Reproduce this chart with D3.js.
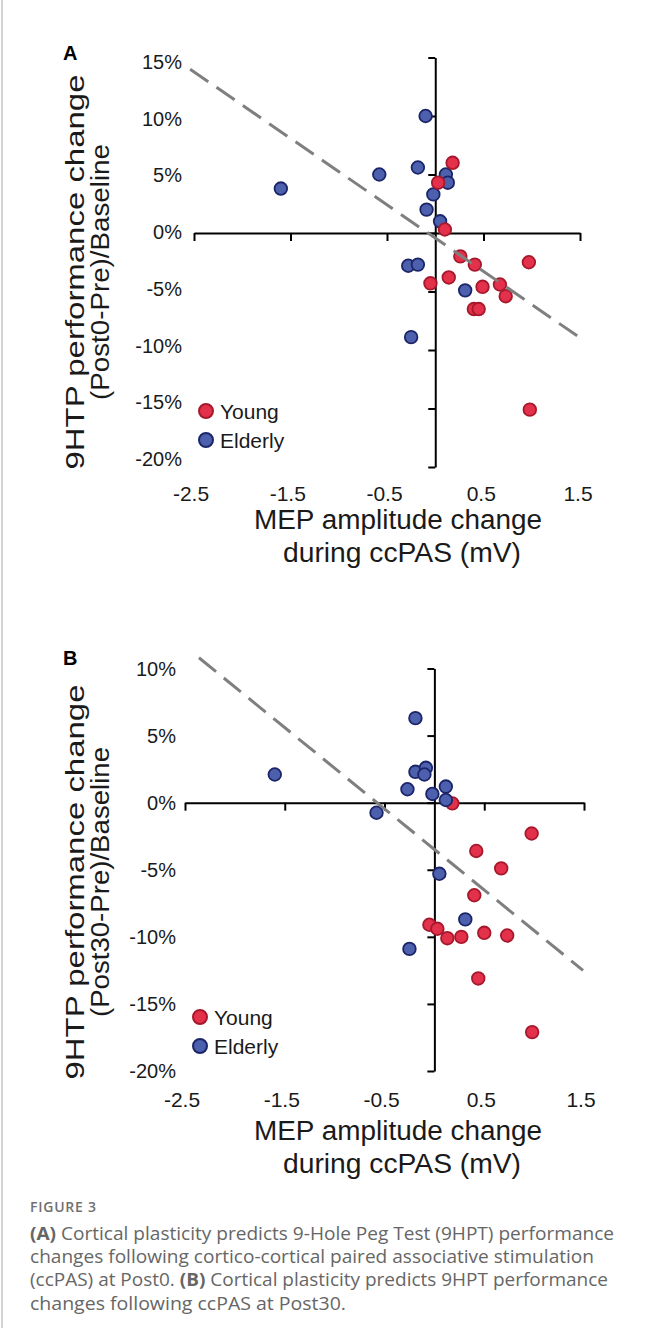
<!DOCTYPE html>
<html><head><meta charset="utf-8">
<script src="https://cdn.jsdelivr.net/npm/d3@7"></script>
<style>body{margin:0;background:#fff}svg{display:block}</style>
</head><body>
<svg id="c" width="662" height="1340"></svg>
<script>
// ---------- data ----------
const xTicks = [-2.5, -1.5, -0.5, 0.5, 1.5];
const yTicksA = [-20, -15, -10, -5, 0, 5, 10, 15];
const yTicksB = [-20, -15, -10, -5, 0, 5, 10];
const seriesNames = ["Young", "Elderly"];

// Panel A: MEP change (mV) vs 9HPT change Post0 (%)
const youngA = [[0.18,6.0],[0.03,4.3],[0.10,0.3],[0.26,-2.0],[0.41,-2.7],[0.97,-2.5],[-0.05,-4.3],
  [0.14,-3.8],[0.49,-4.6],[0.67,-4.4],[0.73,-5.4],[0.40,-6.5],[0.45,-6.5],[0.98,-15.1]];
const elderlyA = [[-1.60,3.8],[-0.58,5.0],[-0.18,5.6],[-0.10,10.0],[0.11,5.0],[0.13,4.3],[-0.02,3.3],
  [-0.09,2.0],[0.05,1.0],[-0.28,-2.8],[-0.18,-2.7],[0.31,-4.9],[-0.25,-8.9]];
const trendA = [[-2.54,14.0],[1.49,-8.9]];

// Panel B: MEP change (mV) vs 9HPT change Post30 (%)
const youngB = [[0.18,-0.05],[0.975,-2.3],[0.42,-3.6],[0.67,-4.9],[0.40,-6.9],[-0.05,-9.1],[0.03,-9.4],
  [0.13,-10.1],[0.27,-10.0],[0.50,-9.7],[0.73,-9.9],[0.44,-13.1],[0.98,-17.1]];
const elderlyB = [[-1.60,2.1],[-0.19,6.3],[-0.58,-0.75],[-0.27,1.0],[-0.19,2.3],[-0.085,2.6],[-0.10,2.1],
  [-0.02,0.65],[0.115,1.2],[0.115,0.2],[0.05,-5.3],[0.31,-8.7],[-0.25,-10.9]];
const trendB = [[-2.36,10.8],[1.49,-12.5]];

// ---------- drawing ----------
const svg = d3.select("#c");
const FONT = "'Liberation Sans', Arial, sans-serif";
const RED = "#e3314b", RED_S = "#a8182c", BLUE = "#4c60ae", BLUE_S = "#1c2568";

function panel(o) {
  const x = d3.scaleLinear().domain([-2.5, 1.5]).range(o.xRange);
  const y = d3.scaleLinear().domain(o.yDomain).range(o.yRange);
  const xl = d3.scaleLinear().domain([-2.5, 1.5]).range(o.xLabRange);
  const yl = d3.scaleLinear().domain(o.yDomain).range(o.yLabRange);
  const g = svg.append("g");

  const ya = g.append("g").attr("transform", `translate(${x(0)},0)`)
    .call(d3.axisLeft(y).tickValues(o.yTicks).tickSize(7).tickSizeOuter(0).tickFormat(""));
  const xa = g.append("g").attr("transform", `translate(0,${y(0)})`)
    .call(d3.axisBottom(x).tickValues(xTicks).tickSize(8).tickSizeOuter(0).tickFormat(""));
  [ya, xa].forEach(a => { a.selectAll("path,line").attr("stroke", "#000").attr("stroke-width", 2); });

  g.selectAll(".yl").data(o.yTicks).join("text")
    .attr("x", o.yLabX).attr("y", d => yl(d)).attr("text-anchor", "end")
    .attr("dominant-baseline", "central").attr("font-family", FONT).attr("font-size", 20)
    .attr("fill", "#1a1a1a").text(d => d + "%");
  g.selectAll(".xl").data(xTicks).join("text")
    .attr("x", d => xl(d)).attr("y", o.xLabY).attr("text-anchor", "middle")
    .attr("dominant-baseline", "central").attr("font-family", FONT).attr("font-size", 21)
    .attr("fill", "#1a1a1a").text(d => d.toFixed(1));

  const drawPts = (data, f, s) => g.append("g").selectAll("circle").data(data).join("circle")
    .attr("cx", d => x(d[0])).attr("cy", d => y(d[1])).attr("r", 6.3)
    .attr("fill", f).attr("stroke", s).attr("stroke-width", 1.8);
  if (o.redOnTop) { drawPts(o.elderly, BLUE, BLUE_S); drawPts(o.young, RED, RED_S); }
  else { drawPts(o.young, RED, RED_S); drawPts(o.elderly, BLUE, BLUE_S); }

  g.append("path").datum(o.trend)
    .attr("d", d3.line().x(d => x(d[0])).y(d => y(d[1])))
    .attr("fill", "none").attr("stroke", "#7f7f7f").attr("stroke-width", 3)
    .attr("stroke-dasharray", "22,10");

  const leg = g.append("g");
  seriesNames.forEach((n, i) => {
    const cy = o.legY + i * 29;
    leg.append("circle").attr("cx", o.legX).attr("cy", cy).attr("r", 7)
      .attr("fill", i ? BLUE : RED).attr("stroke", i ? BLUE_S : RED_S).attr("stroke-width", 2);
    leg.append("text").attr("x", o.legX + 14).attr("y", cy).attr("dominant-baseline", "central")
      .attr("font-family", FONT).attr("font-size", 21).attr("fill", "#1a1a1a").text(n);
  });

  g.append("text").attr("x", 63).attr("y", o.letterY).attr("font-family", FONT)
    .attr("font-weight", "bold").attr("font-size", 20).attr("fill", "#000").text(o.letter);

  [["MEP amplitude change", 398, o.xt1, 288], ["during ccPAS (mV)", 402, o.xt2, 238]].forEach(t => {
    g.append("text").attr("x", t[1]).attr("y", t[2]).attr("text-anchor", "middle")
      .attr("font-family", FONT).attr("font-size", 27).attr("fill", "#1a1a1a")
      .attr("textLength", t[3]).attr("lengthAdjust", "spacingAndGlyphs").text(t[0]);
  });
  [["9HTP performance change", 75, 395], [o.yt2, 100, o.yt2Len]].forEach(t => {
    g.append("text").attr("transform", `translate(${t[1]},${o.ytC}) rotate(-90)`)
      .attr("text-anchor", "middle").attr("dominant-baseline", "central")
      .attr("font-family", FONT).attr("font-size", 26).attr("fill", "#1a1a1a")
      .attr("textLength", t[2]).attr("lengthAdjust", "spacingAndGlyphs").text(t[0]);
  });
}

panel({letter: "A", letterY: 60, xRange: [194, 580], yDomain: [-20, 15], yRange: [467, 57.5],
  xLabRange: [191, 578], yLabRange: [459, 62], yLabX: 182, xLabY: 493, yTicks: yTicksA,
  young: youngA, elderly: elderlyA, trend: trendA, redOnTop: true, legX: 206, legY: 411,
  xt1: 529, xt2: 562, yt2: "(Post0-Pre)/Baseline", yt2Len: 256, ytC: 272});

panel({letter: "B", letterY: 665, xRange: [185, 584], yDomain: [-20, 10], yRange: [1071, 668.5],
  xLabRange: [182, 581], yLabRange: [1071, 668.5], yLabX: 176, xLabY: 1099, yTicks: yTicksB,
  young: youngB, elderly: elderlyB, trend: trendB, redOnTop: false, legX: 200, legY: 1017,
  xt1: 1140, xt2: 1173, yt2: "(Post30-Pre)/Baseline", yt2Len: 270, ytC: 882});

// caption
svg.append("line").attr("x1", 2).attr("x2", 2).attr("y1", 0).attr("y2", 1328)
  .attr("stroke", "#d4d4d4").attr("stroke-width", 2);
const CF = "'Open Sans', Roboto, sans-serif";
svg.append("text").attr("x", 30).attr("y", 1212).attr("font-family", CF).attr("font-size", 14)
  .attr("font-weight", 600).attr("fill", "#707070").attr("textLength", 66).text("FIGURE 3");
const capLines = [
  [["(A)", true], [" Cortical plasticity predicts 9-Hole Peg Test (9HPT) performance", false], 584],
  [["changes following cortico-cortical paired associative stimulation", false], 564],
  [["(ccPAS) at Post0. ", false], ["(B)", true], [" Cortical plasticity predicts 9HPT performance", false], 578],
  [["changes following ccPAS at Post30.", false], 316]
];
capLines.forEach((ln, i) => {
  const t = svg.append("text").attr("x", 30).attr("y", 1240 + i * 23.2)
    .attr("font-family", CF).attr("font-size", 18.2).attr("fill", "#666")
    .attr("textLength", ln[ln.length - 1]).attr("lengthAdjust", "spacingAndGlyphs");
  ln.slice(0, -1).forEach(p => t.append("tspan").attr("font-weight", p[1] ? 700 : 400).text(p[0]));
});
</script>
</body></html>
